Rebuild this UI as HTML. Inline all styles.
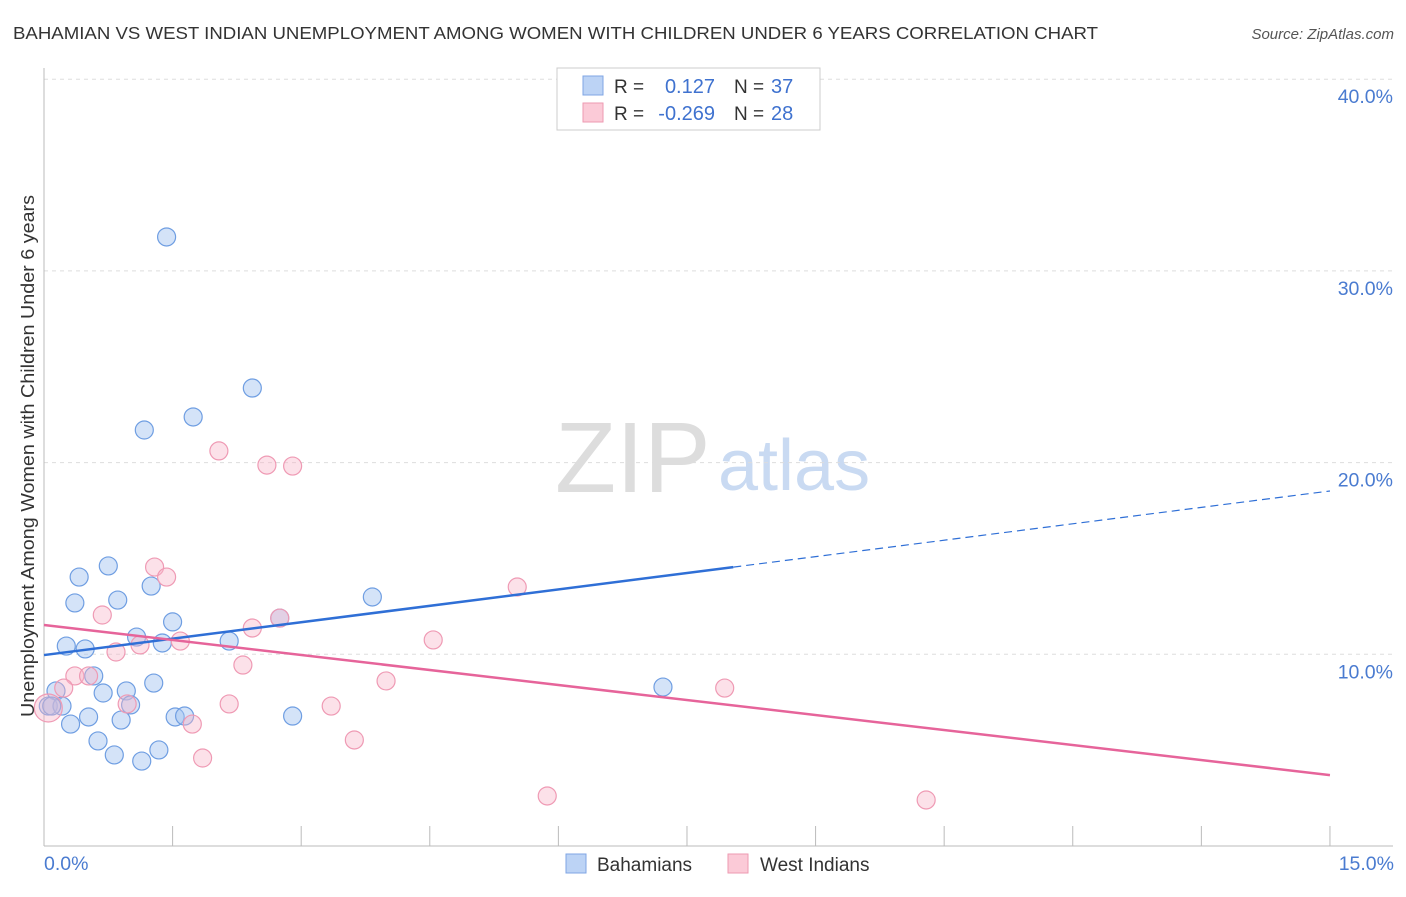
<!DOCTYPE html>
<html><head><meta charset="utf-8"><style>
body{margin:0;background:#fff;font-family:"Liberation Sans",sans-serif}
svg text{font-family:"Liberation Sans",sans-serif}
</style></head><body>
<svg id="c" width="1406" height="892" viewBox="0 0 1406 892">
<text x="13" y="39" font-size="17.5" fill="#333" textLength="1085" lengthAdjust="spacingAndGlyphs">BAHAMIAN VS WEST INDIAN UNEMPLOYMENT AMONG WOMEN WITH CHILDREN UNDER 6 YEARS CORRELATION CHART</text>
<text x="1394" y="39" font-size="15" fill="#555" font-style="italic" text-anchor="end">Source: ZipAtlas.com</text>
<text x="555" y="492" font-size="100" fill="#ddd" font-family="Liberation Serif">ZIP</text>
<text x="718" y="490" font-size="72" fill="#c9daf2">atlas</text>
<g id="grid"></g><g id="axes"></g><g id="pts"></g><g id="lines"></g>
<text transform="translate(34,456) rotate(-90)" font-size="18" fill="#333" text-anchor="middle" textLength="522" lengthAdjust="spacingAndGlyphs">Unemployment Among Women with Children Under 6 years</text>
<text x="44" y="870" font-size="19.5" fill="#4a7bd0">0.0%</text>
<text x="1394" y="870" font-size="19.5" fill="#4a7bd0" text-anchor="end">15.0%</text>
<g>
<rect x="557" y="68" width="263" height="62" fill="#fff" stroke="#ccc"/>
<rect x="583" y="76" width="20" height="19" fill="#bcd3f5" stroke="#7fa6e4"/>
<rect x="583" y="103" width="20" height="19" fill="#fbcad7" stroke="#ee9ab2"/>
<text x="614" y="93" font-size="19" fill="#333">R =</text><text x="715" y="93" font-size="20" fill="#3f72cf" text-anchor="end">0.127</text>
<text x="734" y="93" font-size="19" fill="#333">N =</text><text x="771" y="93" font-size="20" fill="#3f72cf">37</text>
<text x="614" y="120" font-size="19" fill="#333">R =</text><text x="715" y="120" font-size="20" fill="#3f72cf" text-anchor="end">-0.269</text>
<text x="734" y="120" font-size="19" fill="#333">N =</text><text x="771" y="120" font-size="20" fill="#3f72cf">28</text>
</g>
<g>
<rect x="566" y="854" width="20" height="19" fill="#bcd3f5" stroke="#7fa6e4"/>
<text x="597" y="871" font-size="19" fill="#333">Bahamians</text>
<rect x="728" y="854" width="20" height="19" fill="#fbcad7" stroke="#ee9ab2"/>
<text x="760" y="871" font-size="19" fill="#333">West Indians</text>
</g>
</svg>
<script>
const yTicks=[10,20,30,40];
const blueX=[1.43,1.17,1.74,2.43,0.75,0.41,1.25,0.86,0.36,3.83,1.50,1.08,1.38,2.16,2.75,0.26,0.48,0.58,1.28,0.96,0.69,0.14,0.05,0.21,1.01,1.53,1.64,2.90,0.52,0.90,0.31,0.63,1.34,0.82,1.14,7.22,0.09];
const blueY=[31.77,21.70,22.38,23.89,14.61,14.03,13.56,12.83,12.68,12.99,11.69,10.90,10.59,10.69,11.89,10.43,10.28,8.87,8.50,8.09,7.98,8.09,7.30,7.30,7.36,6.73,6.78,6.78,6.73,6.57,6.36,5.48,5.01,4.75,4.43,8.29,7.30];
const pinkX=[2.04,2.60,2.90,1.29,1.43,5.52,0.68,2.75,2.43,4.54,1.12,1.59,0.84,0.36,0.52,2.32,3.99,0.23,2.16,3.35,0.97,1.73,3.62,1.85,5.87,10.29,7.94,0.05];
const pinkY=[20.61,19.87,19.82,14.55,14.03,13.51,12.05,11.89,11.37,10.75,10.49,10.69,10.12,8.87,8.87,9.44,8.61,8.24,7.41,7.30,7.41,6.36,5.53,4.59,2.61,2.40,8.24,7.20];
const blueTrend=[9.96,18.52]; const blueSolidEnd=8.04;
const pinkTrend=[11.53,3.70];
const X=v=>44+v*85.73, Y=v=>846-v*19.17;
const NS='http://www.w3.org/2000/svg';
function mk(t,a,p){const e=document.createElementNS(NS,t);for(const k in a)e.setAttribute(k,a[k]);document.getElementById(p).appendChild(e);return e;}
yTicks.forEach(t=>{
 const l=mk('line',{x1:44,x2:1393,y1:Y(t),y2:Y(t),stroke:'#ddd','stroke-dasharray':'4,4'},'grid');
 
 
 const tx=mk('text',{x:1393,y:Y(t)+24,'font-size':19.5,fill:'#4a7bd0','text-anchor':'end'},'grid');
 tx.textContent=t.toFixed(1)+'%';
 
 
});
let a=mk('line',{x1:44,x2:44,y1:68,y2:846,stroke:'#bbb'},'axes');


a=mk('line',{x1:44,x2:1393,y1:846,y2:846,stroke:'#bbb'},'axes');


for(let i=0;i<=10;i++){const t=mk('line',{x1:X(i*1.5),x2:X(i*1.5),y1:826,y2:846,stroke:'#bbb'},'axes');
 
 }
blueX.forEach((x,i)=>{const c=mk('circle',{cx:X(x),cy:Y(blueY[i]),r:9,fill:'rgba(160,194,240,0.45)',stroke:'#6f9ee2','stroke-width':1.2},'pts');
 
 });
pinkX.forEach((x,i)=>{const c=mk('circle',{cx:X(x),cy:Y(pinkY[i]),r:i==pinkX.length-1?14:9,fill:'rgba(248,180,200,0.4)',stroke:'#ef9ab4','stroke-width':1.2},'pts');
 
 });
const by=v=>blueTrend[0]+(blueTrend[1]-blueTrend[0])*v/15;
let l=mk('line',{x1:X(0),y1:Y(by(0)),x2:X(blueSolidEnd),y2:Y(by(blueSolidEnd)),stroke:'#2f6fd6','stroke-width':2.5},'lines');


l=mk('line',{x1:X(blueSolidEnd),y1:Y(by(blueSolidEnd)),x2:X(15),y2:Y(by(15)),stroke:'#2f6fd6','stroke-width':1.2,'stroke-dasharray':'8,5'},'lines');


l=mk('line',{x1:X(0),y1:Y(pinkTrend[0]),x2:X(15),y2:Y(pinkTrend[1]),stroke:'#e6649a','stroke-width':2.5},'lines');


</script>
</body></html>
